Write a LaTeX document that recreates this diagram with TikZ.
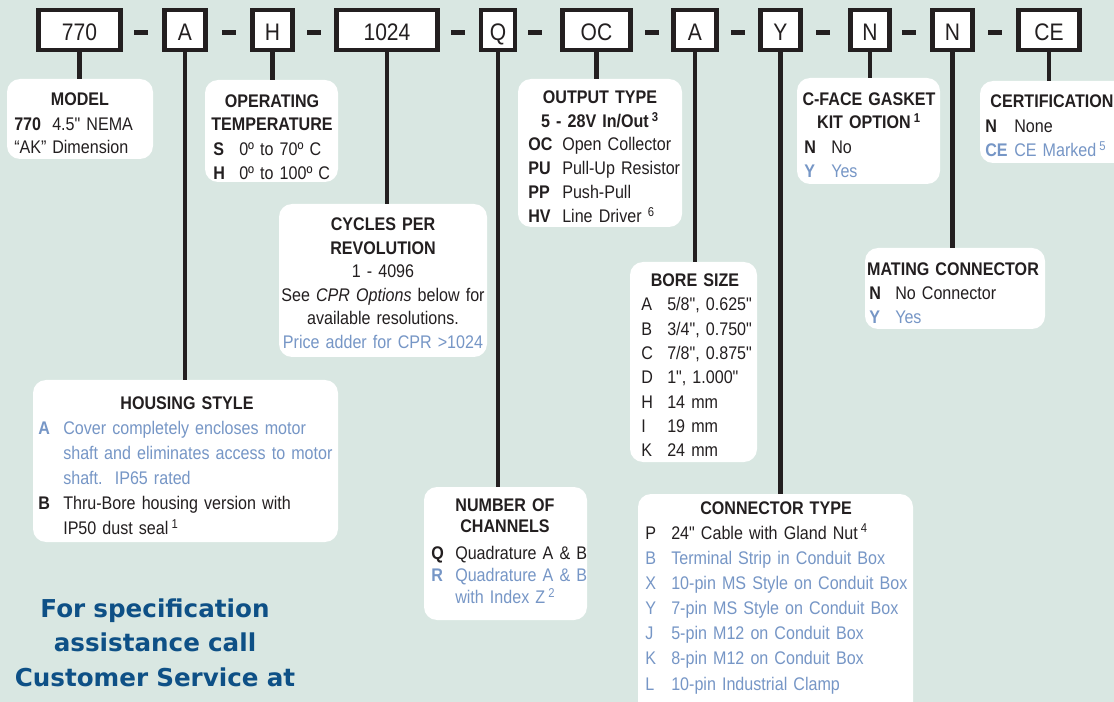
\documentclass[tikz,border=0pt]{standalone}
\usepackage{fontspec}
\setmainfont{Liberation Sans}[FakeStretch=0.88, Ligatures=TeXOff]
\newfontfamily\noticefont{DejaVu Sans}
\usepackage{tikz}

\definecolor{bggreen}{RGB}{217,231,226}
\definecolor{optblue}{RGB}{118,150,198}
\definecolor{inkdark}{RGB}{35,31,32}
\definecolor{callblue}{RGB}{14,80,134}

\newlength{\px}\setlength{\px}{0.025cm}
\newlength{\optcol}
\newcommand{\optrow}[2]{\makebox[\optcol][l]{\bfseries #1}#2}
\newcommand{\boptrow}[2]{{\color{optblue}\optrow{#1}{#2}}}
\newcommand{\plainrow}[2]{\makebox[\optcol][l]{#1}#2}
\newcommand{\fnum}[1]{\,\textsuperscript{#1}}

\begin{document}
\begin{tikzpicture}[x=0.025cm, y=-0.025cm,
    code/.style={draw=inkdark, line width=4.5\px, fill=white, minimum height=40\px, inner sep=0pt, text height=15pt, text depth=0pt, font=\fontsize{17}{20}\selectfont, text=inkdark},
    hyph/.style={fill=inkdark, minimum width=14\px, minimum height=5\px, inner sep=0pt},
    stem/.style={inkdark, line width=4.5\px},
    infobox/.style={fill=white, rounded corners=13\px, inner sep=0pt},
    ttl/.style={anchor=base, inner sep=0pt, text width=6cm, align=center, text=inkdark, font=\fontsize{13}{#1}\selectfont\bfseries},
    ttl/.default=16.5pt,
    opts/.style={anchor=base west, inner sep=0pt, text width=9cm, align=left, text=inkdark, font=\fontsize{13}{#1}\selectfont},
    opts/.default=17.2pt
]
\fill[bggreen, use as bounding box] (0,0) rectangle (1114,702);

% Ordering code
\foreach \n/\xc/\w/\t in {b1/79.5/82/770, b2/185/41/A, b3/272.5/40/H, b4/387/101/1024, b5/498/34/Q, b6/596.5/68/OC, b7/695/43/A, b8/780.5/40/Y, b9/870/39/N, b10/952.5/40/N, b11/1049/61/CE} {
    \node[code, minimum width=\w\px] (\n) at (\xc,30) {\t};
}
\foreach \i/\xc in {1/141, 2/228.5, 3/314, 4/458, 5/535, 6/652, 7/738, 8/823, 9/909, 10/995} {
    \node[hyph] (d\i) at (\xc,33) {};
}

% Option boxes
\node[infobox, minimum width=146\px, minimum height=80\px] (model) at (80,119) {};
\node[infobox, minimum width=133\px, minimum height=102\px] (optemp) at (271.5,131) {};
\node[infobox, minimum width=208\px, minimum height=153\px] (cpr) at (383,280.5) {};
\node[infobox, minimum width=164\px, minimum height=148\px] (output) at (600,153) {};
\node[infobox, minimum width=143\px, minimum height=106\px] (cface) at (868.5,131) {};
\node[infobox, minimum width=150\px, minimum height=82\px] (cert) at (1055,122) {};
\node[infobox, minimum width=180\px, minimum height=81\px] (mating) at (955,288.5) {};
\node[infobox, minimum width=127\px, minimum height=200\px] (bore) at (693.5,362) {};
\node[infobox, minimum width=305\px, minimum height=162\px] (housing) at (185.5,461) {};
\node[infobox, minimum width=163\px, minimum height=133\px] (channels) at (505.5,553.5) {};
\node[infobox, minimum width=275\px, minimum height=226\px] (conn) at (775.5,607) {};

% Stems
\foreach \b/\i in {b1/model, b2/housing, b3/optemp, b4/cpr, b5/channels, b6/output, b7/bore, b8/conn, b9/cface, b10/mating, b11/cert} {
    \draw[stem] (\b.south) -- (\b.south |- \i.north);
}

% Texts
\node[ttl] (model-t) at (80,106) {MODEL};
\node[opts=16.3pt] (model-o) at (14,131) {\setlength{\optcol}{38\px}%
\optrow{770}{4.5" NEMA}\\
\optrow{\mdseries “AK”}{Dimension}};

\node[ttl=16.3pt] (optemp-t) at (272,108) {OPERATING\\TEMPERATURE};
\node[opts=17pt] (optemp-o) at (213,156) {\setlength{\optcol}{26\px}%
\optrow{S}{0º to 70º C}\\
\optrow{H}{0º to 100º C}};

\node[ttl=16.7pt] (cpr-t) at (383,231) {CYCLES PER\\REVOLUTION\\\mdseries 1 - 4096\\
See \textit{CPR Options} below for\\available resolutions.\\
\color{optblue}Price adder for CPR >1024};

\node[ttl=17pt] (output-t) at (600,104) {OUTPUT TYPE\\5 - 28V In/Out\fnum{3}};
\node[opts=17pt] (output-o) at (528,151) {\setlength{\optcol}{34\px}%
\optrow{OC}{Open Collector}\\
\optrow{PU}{Pull-Up Resistor}\\
\optrow{PP}{Push-Pull}\\
\optrow{HV}{Line Driver\ \textsuperscript{6}}};

\node[ttl=16.3pt] (cface-t) at (869,106) {C-FACE GASKET\\KIT OPTION\fnum{1}};
\node[opts=16.5pt] (cface-o) at (804,154) {\setlength{\optcol}{27\px}%
\optrow{N}{No}\\
\boptrow{Y}{Yes}};

\node[ttl] (cert-t) at (1052,108) {CERTIFICATION};
\node[opts=17pt] (cert-o) at (985,133) {\setlength{\optcol}{29\px}%
\optrow{N}{None}\\
\boptrow{CE}{CE Marked\fnum{5}}};

\node[ttl] (mating-t) at (953,276) {MATING CONNECTOR};
\node[opts=17pt] (mating-o) at (869,300) {\setlength{\optcol}{26\px}%
\optrow{N}{No Connector}\\
\boptrow{Y}{Yes}};

\node[ttl] (bore-t) at (695,287) {BORE SIZE};
\node[opts=17.3pt] (bore-o) at (641,311) {\setlength{\optcol}{26\px}%
\plainrow{A}{5/8", 0.625"}\\
\plainrow{B}{3/4", 0.750"}\\
\plainrow{C}{7/8", 0.875"}\\
\plainrow{D}{1", 1.000"}\\
\plainrow{H}{14 mm}\\
\plainrow{I}{19 mm}\\
\plainrow{K}{24 mm}};

\node[ttl] (housing-t) at (187,409) {HOUSING STYLE};
\node[opts=17.9pt] (housing-o) at (38,434) {\setlength{\optcol}{25\px}%
\color{optblue}\optrow{A}{Cover completely encloses motor}\\
\optrow{}{shaft and eliminates access to motor}\\
\optrow{}{shaft.\ \ IP65 rated}\\
\color{inkdark}\optrow{B}{Thru-Bore housing version with}\\
\optrow{}{IP50 dust seal\fnum{1}}};

\node[ttl=15.6pt] (channels-t) at (505,511) {NUMBER OF\\CHANNELS};
\node[opts=16pt] (channels-o) at (431,559) {\setlength{\optcol}{24\px}%
\optrow{Q}{Quadrature A \& B}\\
\color{optblue}\optrow{R}{Quadrature A \& B}\\
\optrow{}{with Index Z\fnum{2}}};

\node[ttl] (conn-t) at (776,514) {CONNECTOR TYPE};
\node[opts=17.9pt] (conn-o) at (645,539) {\setlength{\optcol}{26\px}%
\plainrow{P}{24" Cable with Gland Nut\fnum{4}}\\
\color{optblue}\plainrow{B}{Terminal Strip in Conduit Box}\\
\plainrow{X}{10-pin MS Style on Conduit Box}\\
\plainrow{Y}{7-pin MS Style on Conduit Box}\\
\plainrow{J}{5-pin M12 on Conduit Box}\\
\plainrow{K}{8-pin M12 on Conduit Box}\\
\plainrow{L}{10-pin Industrial Clamp}};

% Call note
\node[anchor=base, inner sep=0pt, text width=8cm, align=center, text=callblue, font=\noticefont\bfseries\fontsize{17.5}{24.8}\selectfont] (call) at (155,617) {For specification\\assistance call\\Customer Service at};

\end{tikzpicture}
\end{document}
